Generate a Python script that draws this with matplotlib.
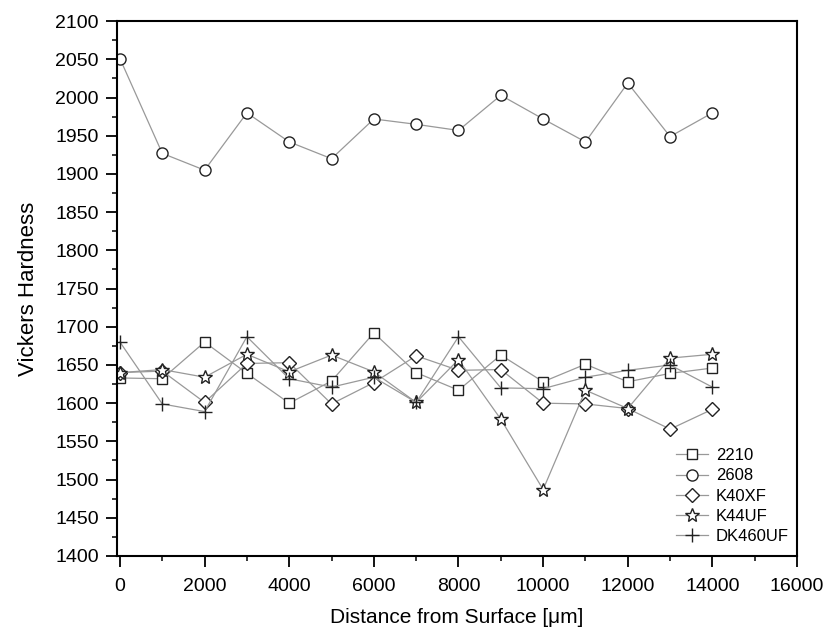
import numpy as np
import matplotlib
matplotlib.use("Agg")
import matplotlib.pyplot as plt
from matplotlib.ticker import MultipleLocator

plt.rcParams['font.family'] = ['Liberation Sans', 'DejaVu Sans']

# distance from surface in micrometres
distance = [0, 1000, 2000, 3000, 4000, 5000, 6000, 7000,
            8000, 9000, 10000, 11000, 12000, 13000, 14000]

# Vickers hardness per grade
hv_2210 = [1633, 1632, 1680, 1639, 1600, 1629, 1692, 1640,
           1617, 1663, 1628, 1651, 1628, 1639, 1646]
hv_2608 = [2051, 1927, 1905, 1980, 1942, 1920, 1972, 1965,
           1957, 2003, 1972, 1942, 2019, 1949, 1980]
hv_k40xf = [1640, 1642, 1601, 1652, 1653, 1599, 1627, 1662,
            1643, 1644, 1600, 1599, 1593, 1566, 1592]
hv_k44uf = [1640, 1644, 1634, 1664, 1641, 1663, 1641, 1601,
            1657, 1579, 1487, 1617, 1593, 1659, 1664]
hv_dk460uf = [1680, 1599, 1589, 1687, 1632, 1621, 1634, 1601,
              1687, 1620, 1619, 1634, 1643, 1650, 1621]

series = [
    ("2210", hv_2210, "s", 7),
    ("2608", hv_2608, "o", 8),
    ("K40XF", hv_k40xf, "D", 7.5),
    ("K44UF", hv_k44uf, "*", 10),
    ("DK460UF", hv_dk460uf, "+", 10),
]

fig = plt.figure(figsize=(8.28, 6.42), dpi=100)
ax = fig.add_axes([0.1413, 0.134, 0.8213, 0.833])

for name, vals, mk, ms in series:
    ax.plot(distance, vals, color="#999999", linewidth=0.9,
            marker=mk, markersize=ms, markerfacecolor="white",
            markeredgecolor="#222222", markeredgewidth=1.0, label=name)

ax.set_xlim(-70, 16000)
ax.set_ylim(1400, 2100)
ax.xaxis.set_major_locator(MultipleLocator(2000))
ax.xaxis.set_minor_locator(MultipleLocator(1000))
ax.yaxis.set_major_locator(MultipleLocator(50))
ax.yaxis.set_minor_locator(MultipleLocator(25))

ax.tick_params(which="major", direction="out", length=8, width=1.3,
               labelsize=14, pad=5, top=False, right=False)
ax.tick_params(axis="x", which="major", pad=8)
ax.tick_params(which="minor", direction="out", length=3.5, width=1.1,
               top=False, right=False)
for sp in ax.spines.values():
    sp.set_linewidth(1.5)

ax.set_xlabel("Distance from Surface [\u03bcm]", fontsize=15, labelpad=9)
ax.set_ylabel("Vickers Hardness", fontsize=16, labelpad=12)

ax.legend(loc="upper left", frameon=False, fontsize=12,
          handlelength=1.9, handletextpad=0.5, labelspacing=0.32,
          borderpad=0, borderaxespad=0,
          bbox_to_anchor=(676 / 828, 1 - 448 / 642),
          bbox_transform=fig.transFigure)

fig.savefig("out.png", dpi=100)
